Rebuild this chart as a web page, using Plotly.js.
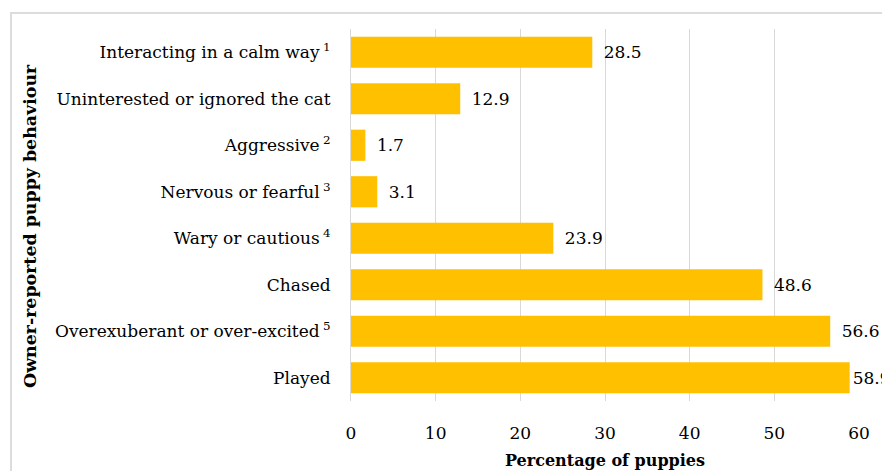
<!DOCTYPE html>
<html>
<head>
<meta charset="utf-8">
<script src="https://cdn.plot.ly/plotly-3.0.1.min.js"></script>
<style>
  html, body { margin: 0; padding: 0; background: #fff; }
  #wrap { position: relative; width: 882px; height: 471px; overflow: hidden; }
  #chart { width: 882px; height: 471px; }
  #frame { position: absolute; left: 10px; top: 12px; width: 1000px; height: 1000px;
           border-left: 2px solid #dcdcdc; border-top: 2px solid #dcdcdc; pointer-events: none; }
</style>
</head>
<body>
<div id="wrap">
  <div id="chart"></div>
  <div id="frame"></div>
</div>
<script>
// Categories listed bottom to top
const categories = [
  "Played",
  "Overexuberant or over-excited\u2009<sup>5</sup>",
  "Chased",
  "Wary or cautious\u2009<sup>4</sup>",
  "Nervous or fearful\u2009<sup>3</sup>",
  "Aggressive\u2009<sup>2</sup>",
  "Uninterested or ignored the cat",
  "Interacting in a calm way\u2009<sup>1</sup>"
];
const percentages = [58.9, 56.6, 48.6, 23.9, 3.1, 1.7, 12.9, 28.5];
const xTickValues = [0, 10, 20, 30, 40, 50, 60];
const xAxisTitle = "Percentage of puppies";
const yAxisTitle = "Owner-reported puppy behaviour";

const serif = "DejaVu Serif, serif";

// label spacing: the topmost value label sits close to its bar (as in the original)
const labelTemplates = percentages.map((v, i) => (i === 0 ? "%{text}" : "\u2002%{text}"));

const trace = {
  type: "bar",
  orientation: "h",
  y: categories,
  x: percentages,
  marker: { color: "#FFC000" },
  text: percentages.map(v => v.toFixed(1)),
  texttemplate: labelTemplates,
  textposition: "outside",
  cliponaxis: false,
  textfont: { family: serif, size: 17, color: "#000" },
  hoverinfo: "skip"
};

const plotLeft = 351, plotTop = 29, plotW = 882 - 351 - 23, plotH = 471 - 29 - 70;

const layout = {
  width: 882,
  height: 471,
  margin: { l: 351, r: 23, t: 29, b: 70 },
  paper_bgcolor: "#fff",
  plot_bgcolor: "#fff",
  bargap: 0.33,
  showlegend: false,
  font: { family: serif, size: 17, color: "#000" },
  xaxis: {
    range: [0, 60],
    tickvals: xTickValues,
    ticktext: xTickValues.map(String),
    showgrid: true,
    gridcolor: "#d9d9d9",
    gridwidth: 1,
    zeroline: false,
    showline: false,
    ticks: "",
    ticklabelstandoff: 20,
    tickfont: { family: serif, size: 17, color: "#000" },
    title: { text: "<b>" + xAxisTitle + "</b>", font: { family: serif, size: 16, color: "#000" }, standoff: 12 },
    fixedrange: true
  },
  yaxis: {
    type: "category",
    categoryorder: "array",
    categoryarray: categories,
    showgrid: false,
    zeroline: false,
    showline: true,
    linecolor: "#d9d9d9",
    linewidth: 1,
    ticks: "",
    ticklabelstandoff: 16,
    tickfont: { family: serif, size: 17, color: "#000" },
    fixedrange: true
  },
  annotations: [{
    text: "<b>" + yAxisTitle + "</b>",
    xref: "paper", yref: "paper",
    x: (30 - plotLeft) / plotW,
    y: 1 - (226 - plotTop) / plotH,
    xanchor: "center", yanchor: "middle",
    textangle: -90,
    showarrow: false,
    font: { family: serif, size: 17.4, color: "#000" }
  }]
};

Plotly.newPlot("chart", [trace], layout, { displayModeBar: false, staticPlot: true });
</script>
</body>
</html>
